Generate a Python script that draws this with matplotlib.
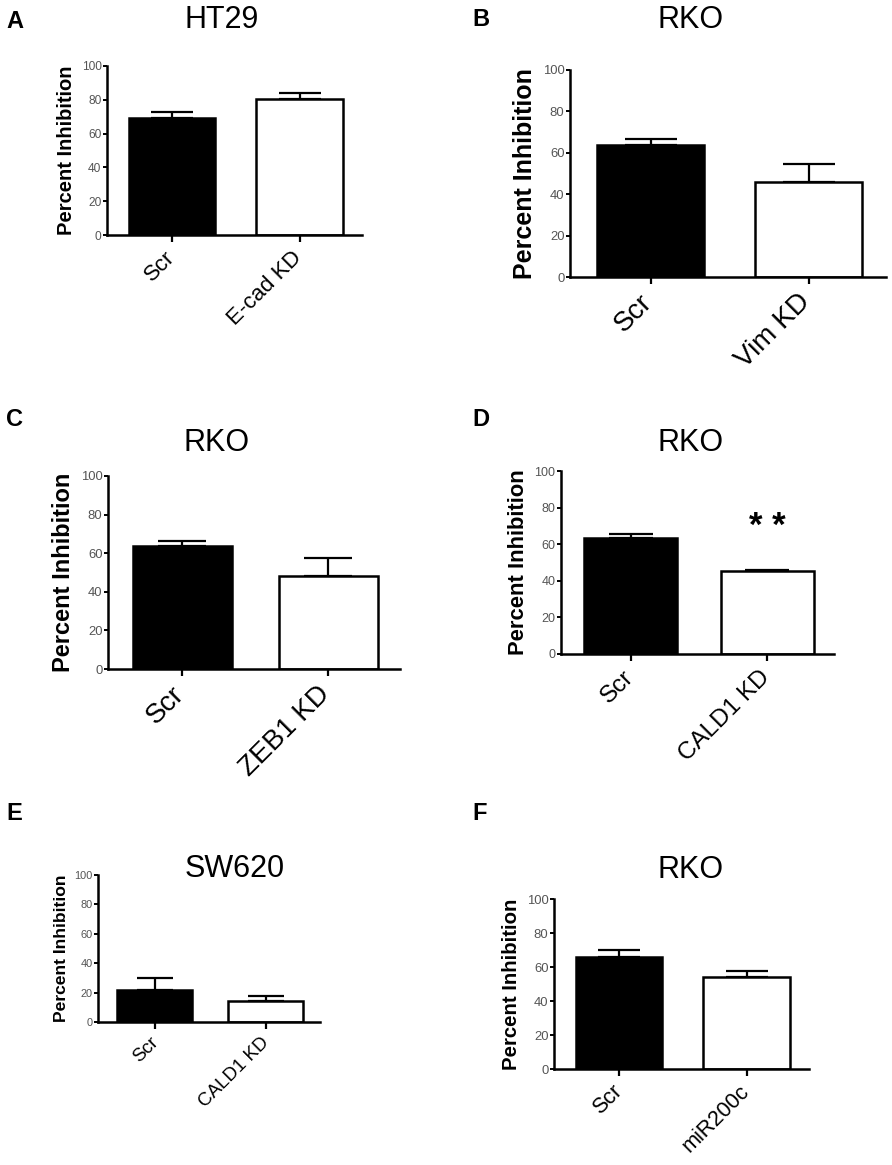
import numpy as np
import matplotlib
matplotlib.use('Agg')
import matplotlib.pyplot as plt
from matplotlib.transforms import ScaledTranslation

plt.rcParams['font.family'] = ['Liberation Sans', 'DejaVu Sans']

# panel data
letters = ['A', 'B', 'C', 'D', 'E', 'F']
titles = ['HT29', 'RKO', 'RKO', 'RKO', 'SW620', 'RKO']
groups = [['Scr', 'E-cad KD'], ['Scr', 'Vim KD'], ['Scr', 'ZEB1 KD'],
          ['Scr', 'CALD1 KD'], ['Scr', 'CALD1 KD'], ['Scr', 'miR200c']]
means = [[69.5, 80.2], [63.8, 46.0], [63.7, 48.0],
         [63.3, 45.3], [21.9, 14.0], [65.7, 53.9]]
errs = [[3.0, 3.9], [2.8, 8.5], [2.4, 9.7],
        [2.2, 0.7], [8.0, 3.6], [4.3, 3.7]]
yticks = [0, 20, 40, 60, 80, 100]
ylab = 'Percent Inhibition'

W, H = 892, 1165
# axes boxes in pixels: left, top, right, bottom
boxes = [(107, 66, 362, 235), (570, 70, 886, 277), (108, 476, 400, 669),
         (561, 471, 834, 654), (98, 875, 320, 1022), (554, 899, 809, 1069)]
title_pos = [(222, 20), (691, 20), (217, 443), (691, 443), (235, 869), (691, 870)]
letter_pos = [(6, 21), (472, 20), (6, 420), (472, 420), (6, 813), (472, 813)]
ylab_size = [14.5, 18, 17, 15.8, 12.6, 14.7]
xlab_size = [16, 20, 20, 17.5, 13.5, 15.6]
tick_size = [8.6, 9.4, 9.4, 9, 7.9, 9.4]

fig = plt.figure(figsize=(W/100, H/100), dpi=100)
# rotated category labels sit a little right of / below the tick
shift = ScaledTranslation(0.07, -0.12, fig.dpi_scale_trans)

for i in range(6):
	l, t, r, b = boxes[i]
	ax = fig.add_axes([l/W, 1-b/H, (r-l)/W, (b-t)/H])
	x = np.arange(2)
	bw = 0.68
	ax.bar(x, means[i], width=bw, color=['black', 'white'], edgecolor='black', linewidth=1.8, zorder=2)
	# upper error bars only
	cap = 0.24*bw*(r-l)/2.0*0.72
	ax.errorbar(x, means[i], yerr=[[0, 0], errs[i]], fmt='none', ecolor='black',
	            elinewidth=1.6, capsize=cap, capthick=1.6, zorder=1)
	ax.set_xlim(-0.51, 1.49)
	ax.set_ylim(0, 100)
	ax.set_yticks(yticks)
	ax.set_xticks(x)
	ax.set_xticklabels([])
	for xi, lab in zip(x, groups[i]):
		ax.text(xi, 0, lab, transform=ax.get_xaxis_transform() + shift, rotation=45,
		        ha='right', va='top', fontsize=xlab_size[i])
	ax.tick_params(axis='y', labelsize=tick_size[i], labelcolor='#555555', length=3, width=1.4, pad=1)
	ax.tick_params(axis='x', length=5, width=1.6)
	ax.set_ylabel(ylab, fontsize=ylab_size[i], fontweight='bold', labelpad=4)
	for s in ['top', 'right']:
		ax.spines[s].set_visible(False)
	for s in ['left', 'bottom']:
		ax.spines[s].set_linewidth(1.8)
	if letters[i] == 'D':
		ax.text(1, 69.5, '* *', ha='center', va='center', fontsize=25, fontweight='bold')
	fig.text(title_pos[i][0]/W, 1-title_pos[i][1]/H, titles[i], ha='center', va='center', fontsize=22)
	fig.text(letter_pos[i][0]/W, 1-letter_pos[i][1]/H, letters[i], ha='left', va='center',
	         fontsize=17, fontweight='bold')

plt.savefig('out.png', dpi=100)
